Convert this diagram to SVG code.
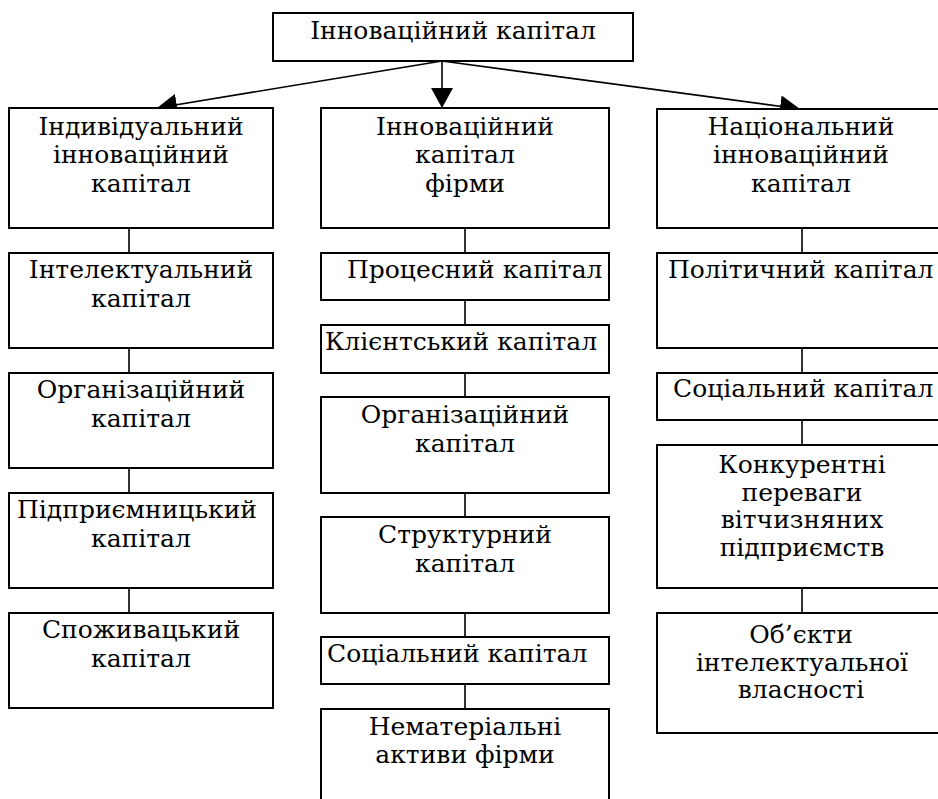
<svg xmlns="http://www.w3.org/2000/svg" width="938" height="799" viewBox="0 0 938 799">
<defs>
<style>
.b{fill:#fff;stroke:#000;stroke-width:2}
.t{font-family:"DejaVu Serif",serif;font-size:25px;fill:#000}
.m{text-anchor:middle}
.c{stroke:#000;stroke-width:1.6;fill:none}
</style>
<marker id="ah" markerUnits="userSpaceOnUse" markerWidth="20" markerHeight="22" viewBox="0 0 20 22" refX="20" refY="11" orient="auto">
<path d="M0,0 L20,11 L0,22 Z" fill="#000"/>
</marker>
</defs>
<rect width="938" height="799" fill="#fff"/>
<g id="connectors">
<line class="c" x1="442" y1="61" x2="157" y2="108" marker-end="url(#ah)"/>
<line class="c" x1="442" y1="61" x2="442" y2="108" marker-end="url(#ah)"/>
<line class="c" x1="442" y1="61" x2="800" y2="109" marker-end="url(#ah)"/>
<path class="c" d="M129,228V253M129,348V373M129,468V493M129,588V613"/>
<path class="c" d="M465,228V253M465,300V325M465,373V397M465,493V517M465,613V637M465,684V709"/>
<path class="c" d="M802,228V253M802,348V373M802,420V445M802,588V613"/>
</g>
<g id="n0"><rect class="b" x="273" y="13" width="360" height="48"/><text class="t m" x="453" y="39">Інноваційний капітал</text></g>
<g id="l1"><rect class="b" x="9" y="108" width="264" height="120"/><text class="t m" x="141" y="135">Індивідуальний</text><text class="t m" x="141" y="163">інноваційний</text><text class="t m" x="141" y="192">капітал</text></g>
<g id="l2"><rect class="b" x="9" y="253" width="264" height="95"/><text class="t m" x="141" y="278">Інтелектуальний</text><text class="t m" x="141" y="307">капітал</text></g>
<g id="l3"><rect class="b" x="9" y="373" width="264" height="95"/><text class="t m" x="141" y="398">Організаційний</text><text class="t m" x="141" y="427">капітал</text></g>
<g id="l4"><rect class="b" x="9" y="493" width="264" height="95"/><text class="t m" x="137" y="518">Підприємницький</text><text class="t m" x="141" y="547">капітал</text></g>
<g id="l5"><rect class="b" x="9" y="613" width="264" height="95"/><text class="t m" x="141" y="638">Споживацький</text><text class="t m" x="141" y="667">капітал</text></g>
<g id="m1"><rect class="b" x="321" y="108" width="288" height="120"/><text class="t m" x="465" y="135">Інноваційний</text><text class="t m" x="465" y="163">капітал</text><text class="t m" x="465" y="192">фірми</text></g>
<g id="m2"><rect class="b" x="321" y="253" width="288" height="47"/><text class="t" x="347" y="278">Процесний капітал</text></g>
<g id="m3"><rect class="b" x="321" y="325" width="288" height="48"/><text class="t" x="325" y="350">Клієнтський капітал</text></g>
<g id="m4"><rect class="b" x="321" y="397" width="288" height="96"/><text class="t m" x="465" y="423">Організаційний</text><text class="t m" x="465" y="452">капітал</text></g>
<g id="m5"><rect class="b" x="321" y="517" width="288" height="96"/><text class="t m" x="465" y="543">Структурний</text><text class="t m" x="465" y="572">капітал</text></g>
<g id="m6"><rect class="b" x="321" y="637" width="288" height="47"/><text class="t" x="327" y="662">Соціальний капітал</text></g>
<g id="m7"><rect class="b" x="321" y="709" width="288" height="110"/><text class="t m" x="465" y="735">Нематеріальні</text><text class="t m" x="465" y="763">активи фірми</text></g>
<g id="r1"><rect class="b" x="657" y="109" width="290" height="119"/><text class="t m" x="801" y="135">Національний</text><text class="t m" x="801" y="163">інноваційний</text><text class="t m" x="801" y="192">капітал</text></g>
<g id="r2"><rect class="b" x="657" y="253" width="290" height="95"/><text class="t" x="668" y="278">Політичний капітал</text></g>
<g id="r3"><rect class="b" x="657" y="373" width="290" height="47"/><text class="t" x="673" y="397">Соціальний капітал</text></g>
<g id="r4"><rect class="b" x="657" y="445" width="290" height="143"/><text class="t m" x="802" y="473">Конкурентні</text><text class="t m" x="802" y="501">переваги</text><text class="t m" x="802" y="528">вітчизняних</text><text class="t m" x="802" y="556">підприємств</text></g>
<g id="r5"><rect class="b" x="657" y="613" width="290" height="120"/><text class="t m" x="801" y="643">Об’єкти</text><text class="t m" x="802" y="671">інтелектуальної</text><text class="t m" x="801" y="698">власності</text></g>
</svg>
